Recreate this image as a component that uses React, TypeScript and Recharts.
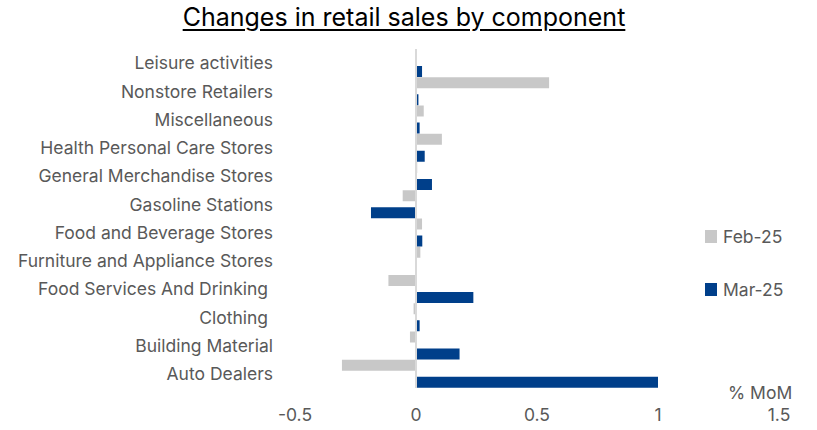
import React from "react";
import { BarChart, Bar, XAxis, YAxis, ReferenceLine } from "recharts";

const categories = [
  "Leisure activities",
  "Nonstore Retailers",
  "Miscellaneous",
  "Health Personal Care Stores",
  "General Merchandise Stores",
  "Gasoline Stations",
  "Food and Beverage Stores",
  "Furniture and Appliance Stores",
  "Food Services And Drinking\u00A0",
  "Clothing\u00A0",
  "Building Material",
  "Auto Dealers",
];
const feb25 = [0.0, 0.55, 0.032, 0.107, 0.005, -0.055, 0.025, 0.018, -0.114, -0.01, -0.025, -0.306];
const mar25 = [0.025, 0.01, 0.015, 0.036, 0.066, -0.186, 0.026, -0.003, 0.237, 0.015, 0.18, 1.0];
const xTicks = [-0.5, 0, 0.5, 1, 1.5];
const seriesNames = ["Feb-25", "Mar-25"];

const data = categories.map((c, i) => ({ name: c, feb: feb25[i], mar: mar25[i] }));

const FONT = "Inter, 'Liberation Sans', Arial, sans-serif";
const GREY = "#c8c8c8";
const NAVY = "#003f8a";
const TEXT = "#595959";
const seriesColors = [GREY, NAVY];

export default function App() {
  return (
    <div style={{ position: "absolute", left: 0, top: 0, width: 817, height: 430, background: "#fff" }}>
      <div
        style={{
          position: "absolute",
          left: 0,
          top: 2,
          width: 808,
          textAlign: "center",
          fontFamily: FONT,
          fontSize: 25,
          lineHeight: "30px",
          color: "#000",
          textDecoration: "underline",
          textUnderlineOffset: 3,
        }}
      >
        Changes in retail sales by component
      </div>
      <BarChart
        width={817}
        height={430}
        data={data}
        layout="vertical"
        margin={{ top: 49, right: 38, bottom: 12, left: 10 }}
        barSize={11}
        barGap={6}
      >
        <XAxis
          type="number"
          domain={[-0.5, 1.5]}
          ticks={xTicks}
          axisLine={false}
          tickLine={false}
          tickMargin={15}
          height={30}
          tick={{ fill: TEXT, fontSize: 17.5, fontFamily: FONT }}
          interval={0}
        />
        <YAxis
          type="category"
          dataKey="name"
          width={285}
          axisLine={false}
          tickLine={false}
          tickMargin={16}
          interval={0}
          tick={{ fill: TEXT, fontSize: 17.5, fontFamily: FONT }}
        />
        <ReferenceLine x={0} stroke="#d9d9d9" strokeWidth={2} />
        <Bar dataKey="feb" name={seriesNames[0]} fill={GREY} isAnimationActive={false} />
        <Bar dataKey="mar" name={seriesNames[1]} fill={NAVY} isAnimationActive={false} />
      </BarChart>
      {seriesNames.map((s, i) => (
        <div
          key={s}
          style={{
            position: "absolute",
            left: 705,
            top: 226 + i * 53,
            height: 20,
            display: "flex",
            alignItems: "center",
            fontFamily: FONT,
            fontSize: 17.5,
            color: TEXT,
          }}
        >
          <span style={{ display: "inline-block", width: 12, height: 13, background: seriesColors[i], marginRight: 6 }} />
          <span>{s}</span>
        </div>
      ))}
      <div
        style={{
          position: "absolute",
          left: 728,
          top: 382,
          fontFamily: FONT,
          fontSize: 17.5,
          color: TEXT,
        }}
      >
        % MoM
      </div>
    </div>
  );
}
